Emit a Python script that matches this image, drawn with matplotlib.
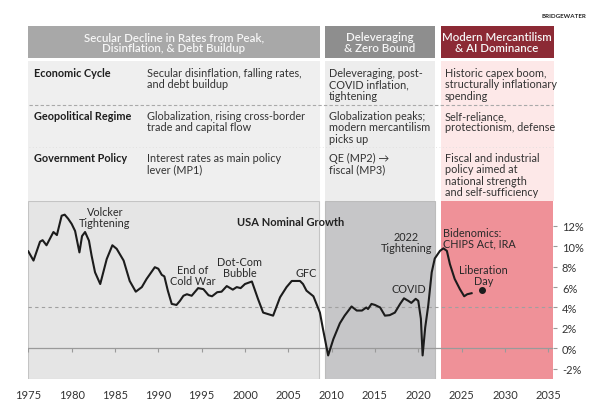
import matplotlib
matplotlib.use("Agg")
import matplotlib.pyplot as plt
from matplotlib.patches import Rectangle

plt.rcParams['font.family'] = ['Lato', 'DejaVu Sans']

# USA nominal growth (% y/y)
years = [1975.0, 1975.6, 1976.35, 1976.65, 1977.1, 1977.9, 1978.3, 1978.85, 1979.2, 1979.6,
         1980.0, 1980.4, 1980.9, 1981.2, 1981.55, 1982.0, 1982.3, 1982.7, 1983.3, 1984.05,
         1984.7, 1985.2, 1986.0, 1986.7, 1987.4, 1988.1, 1988.65, 1989.6, 1990.0, 1990.4,
         1990.7, 1991.1, 1991.55, 1992.1, 1992.5, 1992.9, 1993.3, 1993.85, 1994.6, 1995.2,
         1995.8, 1996.2, 1996.8, 1997.3, 1997.9, 1998.6, 1999.05, 1999.5, 2000.0, 2000.8,
         2001.5, 2002.1, 2003.25, 2004.05, 2004.8, 2005.4, 2006.35, 2006.7, 2007.1, 2007.9,
         2008.65, 2009.0, 2009.6, 2010.2, 2010.95, 2011.5, 2012.3, 2012.9, 2013.5, 2014.0,
         2014.2, 2014.6, 2015.0, 2015.6, 2016.15, 2016.7, 2017.3, 2017.9, 2018.35, 2018.85,
         2019.2, 2019.7, 2020.0, 2020.3, 2020.5, 2020.8, 2021.15, 2021.55, 2021.9, 2022.5,
         2022.9, 2023.3, 2023.65, 2024.2, 2024.8, 2025.3, 2025.65, 2026.15]
growth = [9.5, 8.6, 10.45, 10.6, 10.1, 11.4, 11.1, 13.0, 13.1, 12.7,
          12.2, 11.5, 9.4, 11.0, 11.4, 10.55, 9.1, 7.45, 6.3, 8.75,
          10.1, 9.75, 8.6, 6.6, 5.55, 6.0, 6.8, 7.95, 7.8, 7.2,
          7.05, 5.65, 4.35, 4.25, 4.65, 5.15, 5.3, 5.15, 5.9, 5.8,
          5.2, 5.1, 5.5, 5.55, 6.1, 5.75, 6.0, 5.9, 6.3, 6.55,
          4.85, 3.5, 3.2, 5.0, 6.0, 6.6, 6.6, 6.3, 5.65, 5.1,
          3.5, 1.9, -0.7, 0.9, 2.45, 3.2, 4.1, 3.7, 3.7, 4.0,
          3.85, 4.35, 4.25, 4.0, 3.2, 3.25, 3.5, 4.35, 4.9, 4.65,
          4.45, 4.85, 4.65, 2.9, -0.7, 2.05, 4.2, 7.45, 8.8, 9.55,
          9.8, 9.55, 8.25, 6.8, 5.8, 5.1, 5.3, 5.4]
liberation_year = 2027.3
liberation_value = 5.75

x_ticks = list(range(1975, 2040, 5))
y_ticks = [-2, 0, 2, 4, 6, 8, 10, 12]
y_tick_labels = [f"{v}%" for v in y_ticks]

regime_spans = [(1975.0, 2008.6), (2009.2, 2021.9), (2022.6, 2035.6)]
regime_titles = ["Secular Decline in Rates from Peak,\nDisinflation, & Debt Buildup",
                 "Deleveraging\n& Zero Bound",
                 "Modern Mercantilism\n& AI Dominance"]
row_labels = ["Economic Cycle", "Geopolitical Regime", "Government Policy"]
row_text = [
    ["Secular disinflation, falling rates,\nand debt buildup",
     "Deleveraging, post-\nCOVID inflation,\ntightening",
     "Historic capex boom,\nstructurally inflationary\nspending"],
    ["Globalization, rising cross-border\ntrade and capital flow",
     "Globalization peaks;\nmodern mercantilism\npicks up",
     "Self-reliance,\nprotectionism, defense"],
    ["Interest rates as main policy\nlever (MP1)",
     "QE (MP2) \u2192\nfiscal (MP3)",
     "Fiscal and industrial\npolicy aimed at\nnational strength\nand self-sufficiency"],
]

# chart labels: text, year, value, alignment
annotations = [
    ("Volcker\nTightening", 1983.85, 12.9, 'center'),
    ("End of\nCold War", 1994.0, 7.2, 'center'),
    ("Dot-Com\nBubble", 1999.4, 7.95, 'center'),
    ("GFC", 2007.1, 7.45, 'center'),
    ("2022\nTightening", 2018.65, 10.4, 'center'),
    ("COVID", 2018.9, 5.9, 'center'),
    ("Bidenomics:\nCHIPS Act, IRA", 2022.8, 10.85, 'left'),
    ("Liberation\nDay", 2027.5, 7.15, 'center'),
]

header_colors = ['#a8a8a8', '#8e8e8e', '#8c2a35']
body_colors = ['#efefef', '#ededed', '#fde8e8']
band_colors = ['#e5e5e5', '#c6c6c8', '#ef9198']
band_edges = ['#c4c4c4', '#bcbcbc', 'none']

X0_PX = 28.3
PX_PER_YEAR = 8.667


def year_to_px(year):
    return X0_PX + (year - 1975) * PX_PER_YEAR


fig = plt.figure(figsize=(6, 4.1), dpi=100)

# --- table on top, drawn in pixel coordinates
tab = fig.add_axes([0, 0, 1, 1])
tab.set_xlim(0, 600)
tab.set_ylim(410, 0)
tab.axis('off')

tab.text(586, 16, "BRIDGEWATER", ha='right', va='center', fontsize=4.5,
         fontweight='bold', color='#222222')

for i, (x0, x1) in enumerate(regime_spans):
    p0, p1 = year_to_px(x0), year_to_px(x1)
    tab.add_patch(Rectangle((p0, 26.7), p1 - p0, 32.6, color=header_colors[i], lw=0, zorder=0))
    tab.add_patch(Rectangle((p0, 61.7), p1 - p0, 140, color=body_colors[i], lw=0, zorder=0))
    tab.text((p0 + p1) / 2, 43, regime_titles[i], ha='center', va='center',
             fontsize=8.3, fontweight='semibold', color='#f6f6f6', linespacing=1.0)

desc_x = [147, year_to_px(regime_spans[1][0]) + 4.5, year_to_px(regime_spans[2][0]) + 4]
row_y = [72.7, 116, 158]
for r, label in enumerate(row_labels):
    tab.text(34, row_y[r] - 5, label, ha='left', va='top', fontsize=7.8,
             fontweight='bold', color='#1e1e1e')
    for c in range(3):
        tab.text(desc_x[c], row_y[r] - 5, row_text[r][c], ha='left', va='top',
                 fontsize=7.8, color='#333333', linespacing=1.05)

tab.plot([29, 553], [106, 106], color='#a9a9a9', lw=0.8, ls=(0, (3, 2)))
tab.plot([29, 553], [148, 148], color='#dcdcdc', lw=0.6, ls=(0, (1, 3)))

# --- chart
ax = fig.add_axes([X0_PX / 600, 1 - 380 / 410, 525 / 600, 178 / 410])
ax.set_facecolor('none')
ax.set_xlim(1975, 2035.58)
ax.set_ylim(-3.01, 14.44)
for s in ax.spines.values():
    s.set_visible(False)

for (x0, x1), fc, ec in zip(regime_spans, band_colors, band_edges):
    ax.axvspan(x0, x1, facecolor=fc, edgecolor=ec, lw=0.8, zorder=0)

ax.axhline(0, color='#9a9a9a', lw=0.9, zorder=1)
ax.axhline(4, color='#a0a0a0', lw=0.8, ls=(0, (3, 3)), zorder=1)
ax.vlines(x_ticks, -0.35, 0, color='#9a9a9a', lw=0.8, zorder=1)

ax.plot(years, growth, color='#1c1c1c', lw=1.5, solid_joinstyle='round', zorder=3)
ax.plot([liberation_year], [liberation_value], 'o', color='#1c1c1c', ms=4, zorder=3)

for txt, x, y, ha in annotations:
    ax.text(x, y, txt, ha=ha, va='center', fontsize=7.8, color='#2a2a2a',
            linespacing=1.0, zorder=4)
ax.text(2005.25, 12.4, "USA Nominal Growth", ha='center', va='center', fontsize=8,
        fontweight='bold', color='#222222', zorder=4)

ax.set_xticks(x_ticks)
ax.set_xticklabels([str(x) for x in x_ticks])
ax.set_yticks(y_ticks)
ax.set_yticklabels(y_tick_labels)
ax.yaxis.tick_right()
ax.tick_params(axis='x', length=0, pad=7, labelsize=8, labelcolor='#333333')
ax.tick_params(axis='y', length=3.2, width=0.8, color='#999999', pad=3,
               labelsize=8, labelcolor='#333333')

fig.savefig('out.png', dpi=100)
